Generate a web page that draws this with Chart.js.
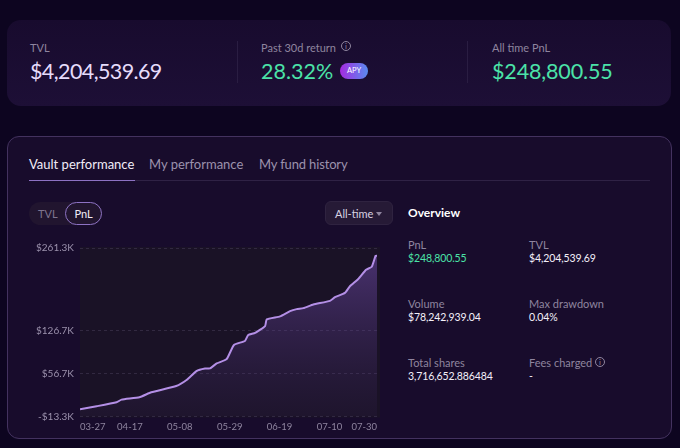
<!DOCTYPE html>
<html><head><meta charset="utf-8">
<style>
*{box-sizing:border-box}
html,body{margin:0;padding:0;width:680px;height:448px;overflow:hidden;background:#0d0520;font-family:Lato,sans-serif}
.a{position:absolute;white-space:nowrap;line-height:1}
#top{position:absolute;left:7px;top:20px;width:664px;height:86px;border-radius:14px;background:linear-gradient(180deg,#180b2e,#1d0f36)}
#main{position:absolute;left:7px;top:136px;width:665px;height:303px;border:1px solid #43325f;border-radius:12px;background:#180c2c}
.lbl{color:#8f859f;font-size:11px}
.val{color:#f4f0fa;font-size:10.5px;letter-spacing:-.1px}
.big{font-size:21.5px}
.grn{color:#4be3a8}
.sep{position:absolute;width:1px;top:41px;height:42px;background:#2a1d42}
canvas{position:absolute;left:20px;top:236px}
</style></head><body>
<div id="top"></div>
<div class="sep" style="left:237px"></div><div class="sep" style="left:467px"></div>
<div class="a lbl" style="left:30px;top:42px">TVL</div>
<div class="a big" style="left:30px;top:61px;color:#e6dcfb;letter-spacing:-.6px">$4,204,539.69</div>
<div class="a lbl" style="left:261px;top:42px">Past 30d return</div>
<div class="a" style="left:341px;top:41px;width:10px;height:10px;border:1px solid #8f859f;border-radius:50%;color:#8f859f;font-size:8px;text-align:center;line-height:8px">i</div>
<div class="a big grn" style="left:261px;top:61px">28.32%</div>
<div class="a" style="left:340px;top:63px;width:28px;height:16px;border-radius:8px;background:linear-gradient(90deg,#a52be0,#5a8cf0);color:#fff;font-size:7.5px;text-align:center;line-height:16px">APY</div>
<div class="a lbl" style="left:492px;top:42px">All time PnL</div>
<div class="a big grn" style="left:492px;top:61px;letter-spacing:-.15px">$248,800.55</div>

<div id="main"></div>
<div class="a" style="left:29px;top:158px;color:#f1ecf8;font-size:13px">Vault performance</div>
<div class="a" style="left:149px;top:158px;color:#9c92ad;font-size:13px">My performance</div>
<div class="a" style="left:259px;top:158px;color:#9c92ad;font-size:13px;letter-spacing:-.15px">My fund history</div>
<div class="a" style="left:29px;top:180px;width:621px;height:1px;background:#2f2245"></div>
<div class="a" style="left:29px;top:180px;width:106px;height:1px;background:#8d72c4"></div>

<div class="a" style="left:29px;top:202px;width:73px;height:23px;border-radius:12px;background:#21152f"></div>
<div class="a" style="left:38px;top:208px;color:#7f7590;font-size:11px">TVL</div>
<div class="a" style="left:65px;top:202px;width:37px;height:23px;border-radius:12px;border:1px solid #8d72c4;color:#f1ecf8;font-size:11px;text-align:center;line-height:21px">PnL</div>
<div class="a" style="left:325px;top:201px;width:68px;height:24px;border-radius:6px;background:#261a36;border:1px solid #2f2340"></div>
<div class="a" style="left:335px;top:208px;color:#d8d2e2;font-size:11px">All-time</div>
<div class="a" style="left:376px;top:212px;width:0;height:0;border-left:3px solid transparent;border-right:3px solid transparent;border-top:4px solid #8f859f"></div>

<div class="a" style="left:408px;top:207px;color:#fff;font-size:12px;font-weight:700">Overview</div>
<div class="a lbl" style="left:408px;top:239px">PnL</div>
<div class="a val grn" style="left:408px;top:253px">$248,800.55</div>
<div class="a lbl" style="left:529px;top:239px">TVL</div>
<div class="a val" style="left:529px;top:253px">$4,204,539.69</div>
<div class="a lbl" style="left:408px;top:298px">Volume</div>
<div class="a val" style="left:408px;top:312px">$78,242,939.04</div>
<div class="a lbl" style="left:529px;top:298px">Max drawdown</div>
<div class="a val" style="left:529px;top:312px">0.04%</div>
<div class="a lbl" style="left:408px;top:357px">Total shares</div>
<div class="a val" style="left:408px;top:371px">3,716,652.886484</div>
<div class="a lbl" style="left:529px;top:357px">Fees charged</div>
<div class="a" style="left:595px;top:357px;width:10px;height:10px;border:1px solid #8f859f;border-radius:50%;color:#8f859f;font-size:8px;text-align:center;line-height:8px">i</div>
<div class="a val" style="left:529px;top:371px">-</div>

<canvas id="c" width="370" height="200" style="width:370px;height:200px"></canvas>
<script src="https://cdn.jsdelivr.net/npm/chart.js@4/dist/chart.umd.min.js"></script>
<script>
const dayOffsets=[0,7,15.4,17.5,25,30,40.5,45,49,52.6,54.7,57.5,61.7,64.8,69.4,70.8,73.7,77.9,78.6,84.2,88.4,91.2,94,98.2,105.2,107.3,111.5,113.6,117.1,120.4,122.8,124.4,125];
const pnlValues=[-1.4,3.4,9.9,14.2,18,26.1,36.4,46.6,60.7,65,65,73.1,80.1,103.3,109.8,119.5,122.8,134.1,144.9,149.8,158.4,161.7,163.3,169.2,175.2,181.1,188.1,198.9,210.8,225.9,230.8,248.6,248.8];
const tickDays=[0,21,42,63,84,105,125];
const tickDates=['03-27','04-17','05-08','05-29','06-19','07-10','07-30'];
const yTicks=[-13.3,56.7,126.7,261.3];
const yLabels=['-$13.3K','$56.7K','$126.7K','$261.3K'];
const points=dayOffsets.map((d,i)=>({x:d,y:pnlValues[i]}));
const plotBg={id:'plotBg',beforeDraw(ch){const a=ch.chartArea,c=ch.ctx;c.save();c.fillStyle='#1a1226';c.fillRect(a.left,a.top-1,a.width+3,a.height+2);c.restore();}};
new Chart(document.getElementById('c'),{type:'line',
 data:{datasets:[{data:points,borderColor:'#b48fe6',borderWidth:2,pointRadius:0,tension:.15,fill:'start',
  backgroundColor(ctx){const a=ctx.chart.chartArea;if(!a)return 'transparent';const g=ctx.chart.ctx.createLinearGradient(0,a.top,0,a.bottom);g.addColorStop(0,'rgba(125,85,190,.5)');g.addColorStop(1,'rgba(70,45,110,.1)');return g;}}]},
 options:{responsive:false,animation:false,devicePixelRatio:1,
  layout:{padding:{left:0,right:13,top:10.5,bottom:0}},
  plugins:{legend:{display:false},tooltip:{enabled:false}},
  scales:{
   x:{type:'linear',min:0,max:125,grid:{display:false,drawTicks:false},border:{display:false},
    afterBuildTicks(s){s.ticks=tickDays.map(v=>({value:v}));},
    afterFit(s){s.height=19.5;},
    ticks:{autoSkip:false,maxRotation:0,align:'inner',padding:5,color:'#8f859f',font:{family:'Lato',size:9.5},callback(v){return tickDates[tickDays.indexOf(v)];}}},
   y:{min:-13.3,max:261.3,afterFit(s){s.width=60;},
    afterBuildTicks(s){s.ticks=yTicks.map(v=>({value:v}));},
    grid:{color:'rgba(150,135,175,.2)',drawTicks:false},border:{display:false,dash:[3,3]},
    ticks:{padding:6,color:'#9c92ad',font:{family:'Lato',size:10},callback(v){return yLabels[yTicks.indexOf(v)];}}}
  }},plugins:[plotBg]});
</script>
</body></html>
